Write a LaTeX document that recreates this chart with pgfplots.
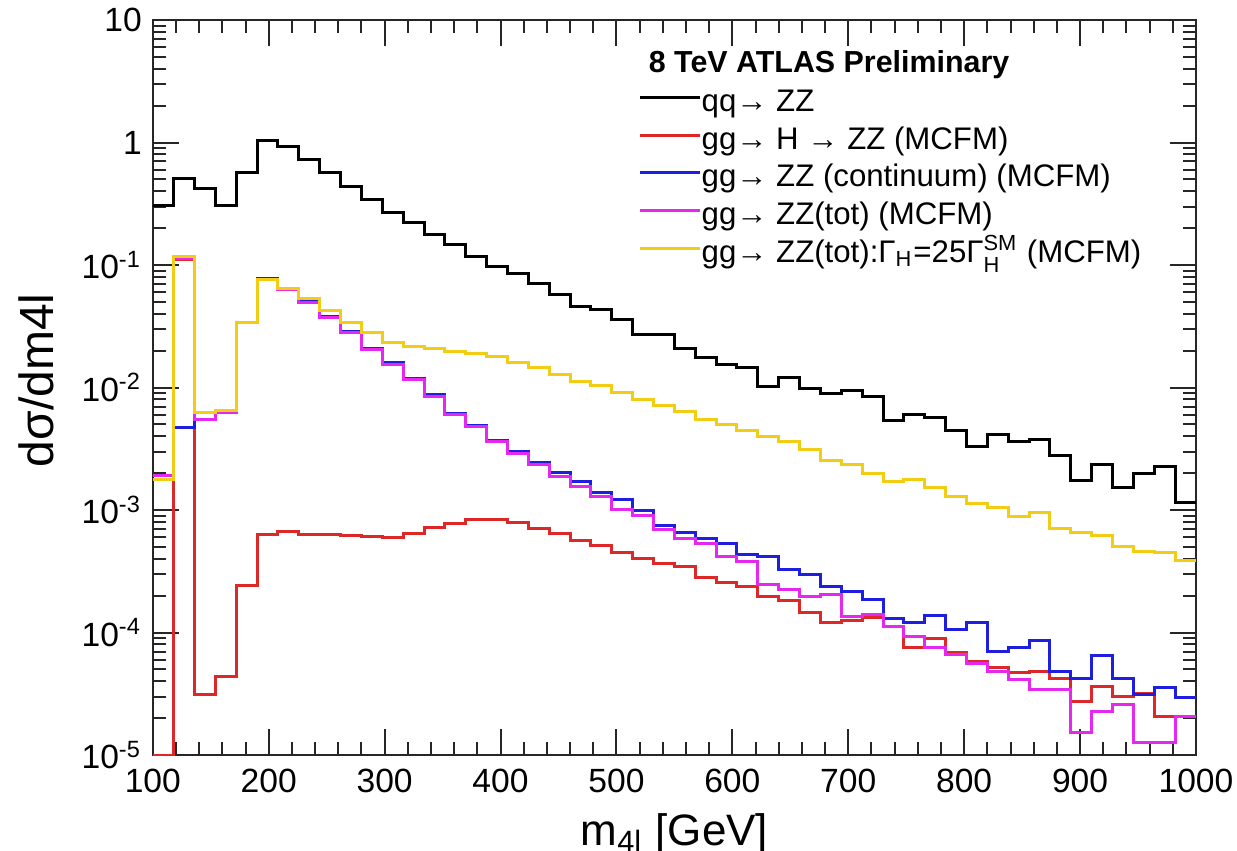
\documentclass[border=0pt]{standalone}
\usepackage{fontspec}
\setmainfont{Liberation Sans}
\usepackage{amsmath}
\usepackage{pgfplots}
\usepackage{pgfplotstable}
\pgfplotsset{compat=1.18}
\definecolor{rred}{RGB}{222,40,40}
\definecolor{rblue}{RGB}{30,30,225}
\definecolor{rmag}{RGB}{228,40,240}
\definecolor{ryel}{RGB}{242,205,20}

% bin lower edges (18 GeV bins), last row closes the final bin
\pgfplotstableread{
x qq h cont tot tot25
100 0.306 1.0e-5 0.0019 0.0019 0.00178
118 0.51 0.11 0.0047 0.112 0.118
136 0.42 3.1e-5 0.0055 0.0055 0.0062
154 0.306 4.4e-5 0.0063 0.0063 0.0065
172 0.57 2.4e-4 0.034 0.034 0.0337
190 1.03 6.3e-4 0.077 0.076 0.076
208 0.93 6.7e-4 0.064 0.063 0.064
226 0.73 6.3e-4 0.050 0.049 0.053
244 0.57 6.3e-4 0.038 0.037 0.0428
262 0.44 6.2e-4 0.0285 0.028 0.034
280 0.34 6.1e-4 0.021 0.0204 0.028
298 0.267 6.0e-4 0.016 0.0155 0.0234
316 0.222 6.4e-4 0.0118 0.0116 0.0215
334 0.177 7.2e-4 0.0087 0.0085 0.0207
352 0.147 7.8e-4 0.0061 0.006 0.0198
370 0.118 8.3e-4 0.0049 0.0048 0.019
388 0.098 8.4e-4 0.0037 0.00365 0.018
406 0.086 7.85e-4 0.0030 0.0029 0.0159
424 0.071 7.06e-4 0.00243 0.00235 0.0145
442 0.057 6.43e-4 0.00201 0.00189 0.0128
460 0.046 5.67e-4 0.0017 0.00156 0.0113
478 0.043 5.13e-4 0.0014 0.0013 0.0103
496 0.036 4.53e-4 0.00122 0.00101 0.0091
514 0.027 4.0e-4 0.001 9.0e-4 0.0080
532 0.027 3.66e-4 7.5e-4 6.9e-4 0.0071
550 0.021 3.44e-4 6.6e-4 5.9e-4 0.0064
568 0.0175 2.79e-4 5.9e-4 5.3e-4 0.0055
586 0.0154 2.54e-4 5.3e-4 4.15e-4 0.005
604 0.0145 2.39e-4 4.3e-4 3.82e-4 0.0045
622 0.0102 1.98e-4 4.15e-4 2.47e-4 0.004
640 0.012 1.84e-4 3.27e-4 2.25e-4 0.0036
658 0.0098 1.45e-4 2.95e-4 1.98e-4 0.0031
676 0.0089 1.21e-4 2.39e-4 2.04e-4 0.00255
694 0.0095 1.26e-4 2.17e-4 1.36e-4 0.00235
712 0.0084 1.32e-4 1.86e-4 1.4e-4 0.00199
730 0.0054 1.13e-4 1.29e-4 1.13e-4 0.00172
748 0.006 7.5e-5 1.21e-4 9.3e-5 0.00177
766 0.00565 8.87e-5 1.38e-4 7.5e-5 0.00152
784 0.0045 6.82e-5 1.06e-4 6.6e-5 0.00128
802 0.0033 5.83e-5 1.21e-4 5.6e-5 0.00113
820 0.0041 5.15e-5 7.0e-5 4.83e-5 0.00104
838 0.0036 4.74e-5 7.5e-5 4.13e-5 0.00089
856 0.0038 4.83e-5 8.65e-5 3.43e-5 0.00096
874 0.0028 4.19e-5 4.83e-5 3.43e-5 0.00071
892 0.00174 2.75e-5 4.19e-5 1.53e-5 0.00065
910 0.00235 3.65e-5 6.48e-5 2.28e-5 0.00062
928 0.00153 3.02e-5 4.19e-5 2.58e-5 0.0005
946 0.00199 3.2e-5 3.12e-5 1.27e-5 0.00046
964 0.00228 2.07e-5 3.54e-5 1.27e-5 0.00045
982 0.00116 2.07e-5 2.93e-5 2.07e-5 0.00039
1000 0.00116 2.07e-5 2.93e-5 2.07e-5 0.00039
}\hist

\newcommand{\ex}[1]{10\textsuperscript{#1}}

\begin{document}
\begin{tikzpicture}
\begin{axis}[
    scale only axis,
    width=260.8pt, height=183.75pt,
    xmin=100, xmax=1000,
    ymode=log, ymin=1e-5, ymax=10,
    xtick={100,200,...,1000},
    minor x tick num=4,
    ytick={1e-5,1e-4,1e-3,1e-2,1e-1,1,10},
    yticklabels={\ex{-5},\ex{-4},\ex{-3},\ex{-2},\ex{-1},1,10},
    tick align=inside,
    major tick length=6.5pt, minor tick length=3.2pt,
    axis line style={line width=0.6pt, black!85},
    every tick/.style={black!85, line width=0.5pt},
    /pgf/number format/assume math mode=true,
    /pgf/number format/1000 sep={},
    ticklabel style={font=\fontsize{8.4}{10}\selectfont},
    yticklabel style={xshift=0.8pt},
    xlabel={m\textsubscript{4l} [GeV]},
    ylabel={dσ/dm4l},
    every axis x label/.style={at={(axis description cs:0.5,-0.1224)}, anchor=base, font=\fontsize{11}{13}\selectfont},
    every axis y label/.style={at={(axis description cs:-0.112,0.51)}, rotate=90, anchor=center, font=\fontsize{12}{14}\selectfont},
    legend style={at={(rel axis cs:0.465,0.91)}, anchor=north west, draw=none, fill=none,
        inner sep=0pt, row sep=0pt, font=\fontsize{7.8}{9}\selectfont,
        nodes={inner sep=0pt, text height=6.2pt, text depth=3.2pt}},
    legend cell align=left,
    /tikz/every even column/.append style={column sep=2.8pt},
    legend image code/.code={\draw[#1] (0pt,2pt) -- (15pt,2pt);},
]
\addplot[const plot, black, line width=0.75pt] table[x=x, y=qq] {\hist};
\addlegendentry{qq→ ZZ}
\addplot[const plot, rred, line width=0.75pt] table[x=x, y=h] {\hist};
\addlegendentry{gg→ H → ZZ (MCFM)}
\addplot[const plot, rblue, line width=0.75pt] table[x=x, y=cont] {\hist};
\addlegendentry{gg→ ZZ (continuum) (MCFM)}
\addplot[const plot, rmag, line width=0.75pt] table[x=x, y=tot] {\hist};
\addlegendentry{gg→ ZZ(tot) (MCFM)}
\addplot[const plot, ryel, line width=0.75pt] table[x=x, y=tot25] {\hist};
\addlegendentry{gg→ ZZ(tot):Γ$_{\text{H}}$=25Γ$_{\text{H}}^{\text{SM}}$ (MCFM)}
\node[anchor=base west, font=\bfseries\fontsize{7.6}{9}\selectfont] at (rel axis cs:0.462,0.928) {8 TeV ATLAS Preliminary};
\end{axis}
\pgfresetboundingbox
\path[use as bounding box] (-38.2pt,-23.75pt) rectangle (271.05pt,188.75pt);
\end{tikzpicture}
\end{document}
